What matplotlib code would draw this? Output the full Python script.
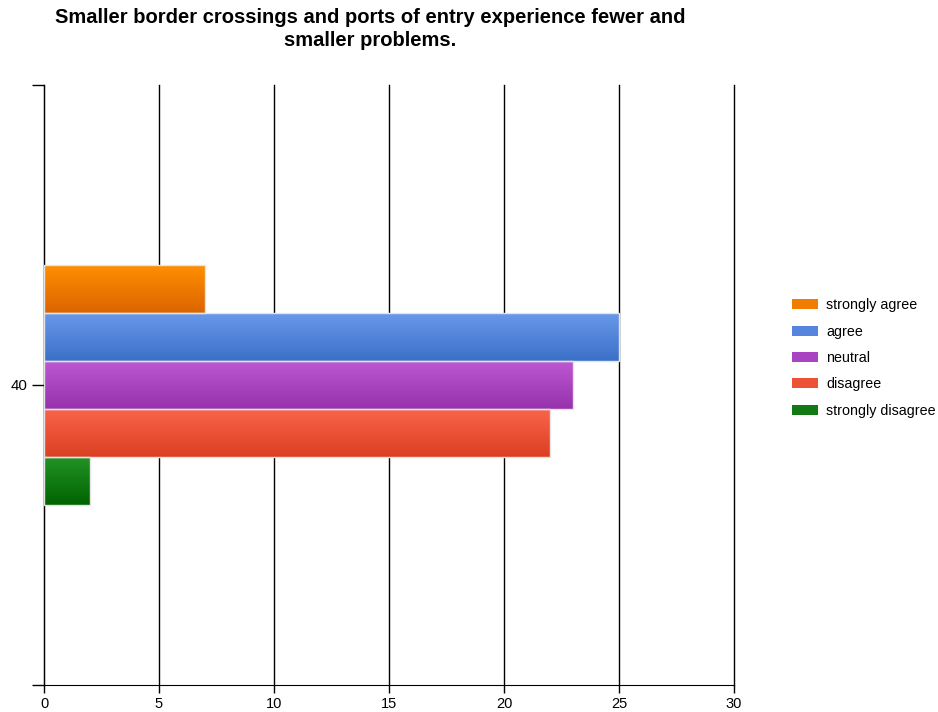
import numpy as np
import matplotlib
matplotlib.use("Agg")
import matplotlib.pyplot as plt
from matplotlib.colors import LinearSegmentedColormap
from matplotlib.patches import Rectangle, Patch

plt.rcParams['font.family'] = ['Liberation Sans', 'DejaVu Sans']

TITLE = "Smaller border crossings and ports of entry experience fewer and\nsmaller problems."
categories = ["strongly agree", "agree", "neutral", "disagree", "strongly disagree"]
values = [7, 25, 23, 22, 2]
group_label = "40"
# (top colour, bottom colour) for each bar's vertical gradient
shades = [("#ff8f00", "#dc6400"),
          ("#6898ea", "#3c70c8"),
          ("#bd58d2", "#9632ac"),
          ("#f96449", "#dc4022"),
          ("#229226", "#006400")]
flat = ["#f07d00", "#5585dc", "#a843c1", "#ee5236", "#117a15"]

fig = plt.figure(figsize=(9.38, 7.12), dpi=100)
ax = fig.add_axes([44/938, 1-685/712, 690/938, 600/712])

center, bar_h = 40.0, 0.08
n = len(values)
grad = np.linspace(0, 1, 64).reshape(-1, 1)
for i, (v, (c_top, c_bot)) in enumerate(zip(values, shades)):
    yc = center + (n//2 - i) * bar_h
    y0, y1 = yc - bar_h/2, yc + bar_h/2
    cmap = LinearSegmentedColormap.from_list("g%d" % i, [c_bot, c_top])
    ax.imshow(grad, extent=[0, v, y0, y1], origin="lower", aspect="auto",
              cmap=cmap, zorder=3, interpolation="bilinear")
    ax.add_patch(Rectangle((0, y0), v, bar_h, fill=False, ec="#e4e4e4", lw=1, zorder=4))

ax.set_xlim(0, 30)
ax.set_ylim(center - 0.5, center + 0.5)
ax.set_xticks(np.arange(0, 31, 5))
ax.set_yticks([center - 0.5, center, center + 0.5])
ax.set_yticklabels(["", group_label, ""])
ax.grid(axis="x", color="black", lw=1, zorder=1)
for gl in ax.get_xgridlines():
    gl.set_clip_on(False)
ax.set_axisbelow(True)
for s in ("top", "right"):
    ax.spines[s].set_visible(False)
for s in ("left", "bottom"):
    ax.spines[s].set_color("black")
ax.tick_params(axis="x", length=6, width=1, labelsize=10.5, colors="black", pad=3)
ax.tick_params(axis="y", length=9, width=1, labelsize=10.8, colors="black", pad=3)

fig.text(370/938, 1-29/712, TITLE, ha="center", va="center", fontsize=14.5,
         fontweight="bold", linespacing=1.25)

handles = [Patch(facecolor=c, edgecolor="none") for c in flat]
fig.legend(handles, categories, loc="center left", bbox_to_anchor=(786/938, 1-358/712),
           frameon=False, fontsize=10.3, handlelength=1.85, handleheight=0.7,
           labelspacing=0.87, handletextpad=0.55, borderaxespad=0)

fig.savefig("out.png", dpi=100)
